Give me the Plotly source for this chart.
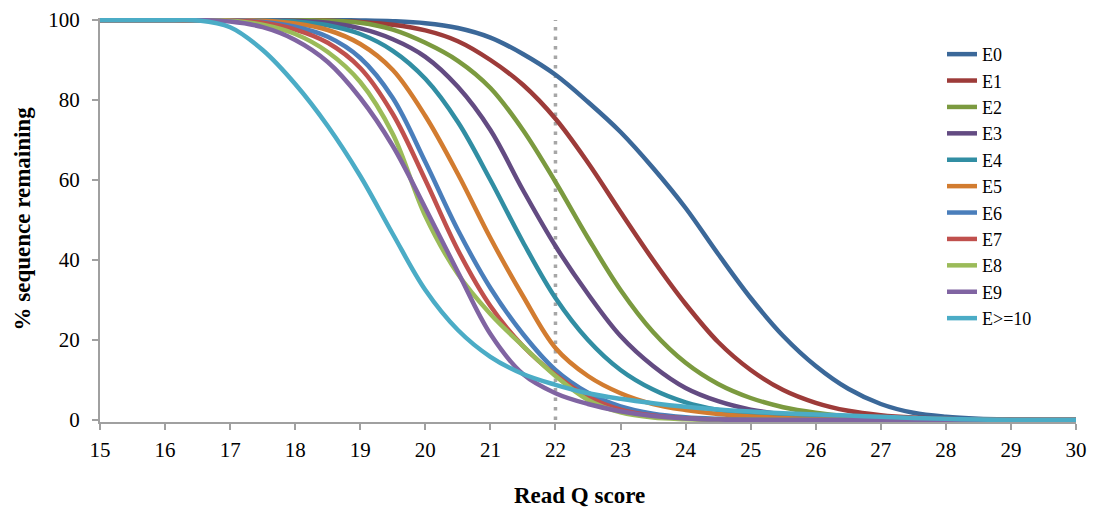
import plotly.graph_objects as go

# ---------------- data ----------------
q_score = [15, 15.5, 16, 16.5, 17, 17.5, 18, 18.5, 19, 19.5, 20, 20.5, 21, 21.5, 22,
           22.5, 23, 23.5, 24, 24.5, 25, 25.5, 26, 26.5, 27, 27.5, 28, 28.5, 29, 29.5, 30]

E0 = [100, 100, 100, 100, 100, 100, 100, 100, 99.9, 99.7, 99.2, 98, 95.6, 91.5, 86.3,
      79.5, 72, 63, 53, 41.5, 30.5, 21, 13.5, 7.8, 4, 1.8, 0.8, 0.3, 0.1, 0, 0]
E1 = [100, 100, 100, 100, 100, 100, 100, 99.9, 99.5, 98.8, 97.4, 94.7, 90, 83.8, 75.3,
      64.3, 52, 40, 29, 19.5, 12.5, 7.5, 4.3, 2.3, 1.2, 0.6, 0.3, 0.1, 0, 0, 0]
E2 = [100, 100, 100, 100, 100, 100, 100, 99.8, 99.3, 97.6, 94.3, 89.8, 83, 72.5, 59.5,
      45.5, 32.5, 22, 14.3, 9, 5.5, 3.2, 1.8, 0.9, 0.4, 0.2, 0, 0, 0, 0, 0]
E3 = [100, 100, 100, 100, 100, 100, 99.8, 99.3, 97.9, 95.2, 90.8, 83.3, 72.5, 57.5, 43.5,
      31.5, 21, 13.5, 8, 4.7, 2.6, 1.4, 0.7, 0.3, 0.1, 0, 0, 0, 0, 0, 0]
E4 = [100, 100, 100, 100, 100, 99.9, 99.6, 98.7, 96.5, 92.3, 85.3, 74.5, 60, 44.5, 30.5,
      20, 12.5, 7.6, 4.4, 2.5, 1.4, 0.8, 0.4, 0.2, 0, 0, 0, 0, 0, 0, 0]
E5 = [100, 100, 100, 100, 100, 99.8, 99.1, 97.5, 94, 87.5, 76, 61.5, 45.5, 31, 18,
      11, 6.7, 4, 2.5, 1.5, 0.9, 0.5, 0.2, 0.1, 0, 0, 0, 0, 0, 0, 0]
E6 = [100, 100, 100, 100, 100, 99.5, 98.3, 95.8, 90.5, 80.5, 64.5, 47.5, 33, 21.5, 12.5,
      6.8, 3.4, 1.6, 0.7, 0.3, 0.1, 0, 0, 0, 0, 0, 0, 0, 0, 0, 0]
E7 = [100, 100, 100, 100, 99.9, 99.3, 97.6, 94.3, 88, 76.5, 60, 42.5, 28.5, 18.5, 11.3,
      5.8, 2.6, 1.1, 0.4, 0.1, 0, 0, 0, 0, 0, 0, 0, 0, 0, 0, 0]
E8 = [100, 100, 100, 100, 99.8, 98.8, 96.5, 92, 84.5, 71.5, 51, 36.5, 26.5, 18.5, 11,
      5, 1.9, 0.6, 0.2, 0, 0, 0, 0, 0, 0, 0, 0, 0, 0, 0, 0]
E9 = [100, 100, 100, 100, 99.6, 98.2, 95, 89.5, 80.5, 68.5, 53, 37, 21.5, 11.5, 6.7,
      4, 2.2, 1, 0.4, 0.1, 0, 0, 0, 0, 0, 0, 0, 0, 0, 0, 0]
E10 = [100, 100, 100, 99.9, 98.2, 92.5, 84, 73.5, 61, 46.5, 32.5, 22.5, 15.8, 11.5, 8.8,
       6.7, 5.3, 4.2, 3.3, 2.6, 2.1, 1.7, 1.4, 1.1, 0.8, 0.5, 0.3, 0.1, 0, 0, 0]

series_names = ["E0", "E1", "E2", "E3", "E4", "E5", "E6", "E7", "E8", "E9", "E>=10"]
series_values = [E0, E1, E2, E3, E4, E5, E6, E7, E8, E9, E10]
series_colors = ["#3b6899", "#9d3b39", "#7b9a3f", "#634b82", "#318ea3", "#d27c30",
                 "#4a7ebb", "#c0504d", "#9bbb59", "#8064a2", "#4bacc6"]

x_ticks = list(range(15, 31))
y_ticks = [0, 20, 40, 60, 80, 100]
q_threshold = 22
x_title = "Read Q score"
y_title = "% sequence remaining"

# ---------------- figure ----------------
FONT = "Liberation Serif"
AXIS_GRAY = "#a0a0a0"

fig = go.Figure()
for name, vals, col in zip(series_names, series_values, series_colors):
    fig.add_trace(go.Scatter(
        x=q_score, y=vals, name=name, mode="lines",
        line=dict(color=col, width=4.5, shape="spline", smoothing=1.0),
    ))

fig.add_shape(type="line", xref="x", yref="y",
              x0=q_threshold, x1=q_threshold, y0=0, y1=100,
              line=dict(color="#a6a6a6", width=3.5, dash="3.5px,6px"),
              layer="below")

fig.add_annotation(text="<b>" + x_title + "</b>", xref="paper", yref="paper",
                   x=0.4918, y=-0.1807, xanchor="center", yanchor="middle",
                   showarrow=False, font=dict(family=FONT, size=23, color="black"))
fig.add_annotation(text="<b>" + y_title + "</b>", xref="paper", yref="paper",
                   x=-0.0799, y=0.5037, xanchor="center", yanchor="middle",
                   textangle=-90, showarrow=False,
                   font=dict(family=FONT, size=23, color="black"))

# page body has an 8px margin: figure is sized so the plot lands where the reference has it
fig.update_layout(
    width=1088, height=503,
    margin=dict(l=92, r=20, t=10, b=89, autoexpand=False),
    paper_bgcolor="white", plot_bgcolor="white",
    font=dict(family=FONT, size=21, color="black"),
    showlegend=True,
    legend=dict(x=0.8627, y=0.9556, xanchor="left", yanchor="top",
                bgcolor="rgba(0,0,0,0)", borderwidth=0,
                font=dict(family=FONT, size=18, color="black"),
                tracegroupgap=0),
    xaxis=dict(range=[15, 30], tickvals=x_ticks, showgrid=False, zeroline=False,
               showline=True, linecolor=AXIS_GRAY, linewidth=2, automargin=False,
               ticks="outside", ticklen=6, tickwidth=2, tickcolor=AXIS_GRAY,
               ticklabelstandoff=2,
               tickfont=dict(family=FONT, size=21, color="black")),
    yaxis=dict(range=[-0.5, 100.5], tickvals=y_ticks, showgrid=False, zeroline=False,
               showline=True, linecolor=AXIS_GRAY, linewidth=2, automargin=False,
               ticks="outside", ticklen=6, tickwidth=2, tickcolor=AXIS_GRAY,
               ticklabelstandoff=8,
               tickfont=dict(family=FONT, size=21, color="black")),
)

fig.write_html("out.html")
